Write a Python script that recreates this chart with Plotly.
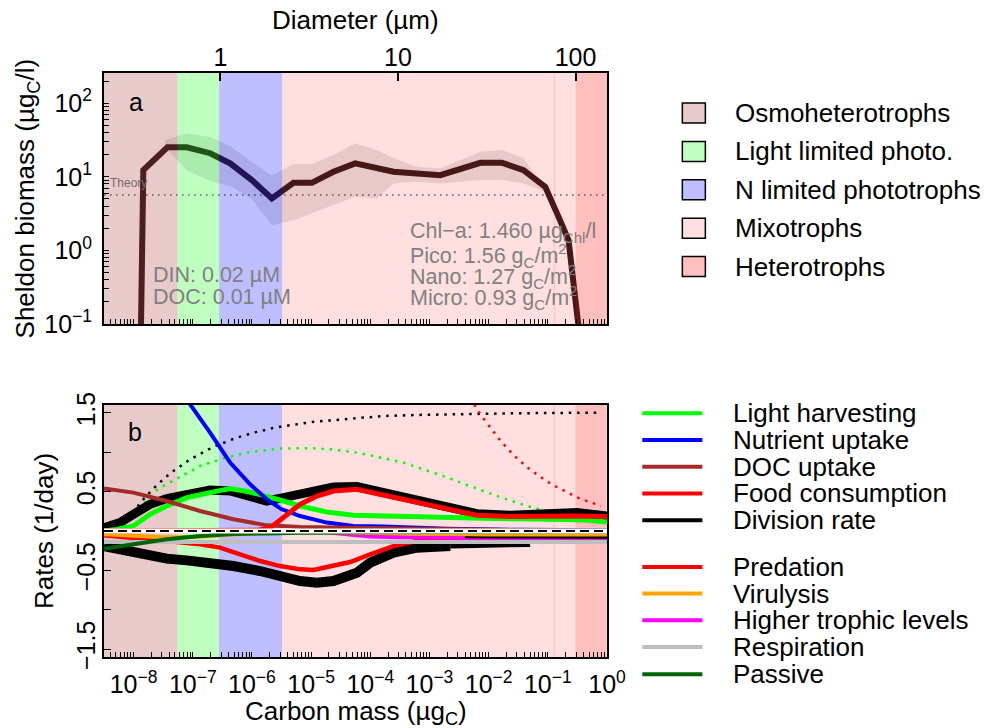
import numpy as np
import plotly.graph_objects as go

FONT = "Liberation Sans, Arial, Helvetica, sans-serif"

# ---------------- axis ranges (data units) ----------------
diam_axis = [0.221, 150.3]          # µm (top axis of panel a)
mass_axis_log = [-8.5, 0.0]         # log10 µgC (bottom axes)
biomass_axis_log = [-1.0, 2.41]     # log10 µgC/l
rate_axis = [-1.6, 1.6]             # 1/day
carbon_per_d3 = 10 ** -6.535        # µgC per (µm diameter)^3

# ---------------- size groups (edges in diameter, µm) ----------------
group_names = ["Osmoheterotrophs", "Light limited photo.", "N limited phototrophs",
               "Mixotrophs", "Heterotrophs"]
group_edges_um = [0.221, 0.573, 0.983, 2.226, 100.0, 150.3]
group_colors = ["rgba(165,42,42,0.25)", "rgba(0,255,0,0.25)", "rgba(0,0,255,0.25)",
                "rgba(255,0,0,0.125)", "rgba(255,0,0,0.25)"]
faint_edge_um = 76.0

# ---------------- panel a: Sheldon biomass ----------------
biomass_d = [0.352, 0.368, 0.503, 0.647, 0.875, 1.134, 1.503, 1.948, 2.578, 3.27, 4.33,
             5.74, 9.44, 17.3, 29.1, 38.5, 50.9, 67.5, 80.2, 91.3, 103.6, 115.0]
biomass = [0.01, 12.3, 25.1, 25.1, 20.9, 15.2, 9.0, 5.08, 8.28, 8.28, 11.7,
           15.2, 11.7, 10.5, 15.5, 15.5, 12.3, 7.3, 2.85, 1.37, 0.098, 0.01]
shade_d = [0.488, 0.647, 0.875, 1.134, 1.503, 1.948, 2.578, 3.27, 4.33, 5.74, 7.61,
           9.44, 12.8, 17.3, 29.1, 38.5, 50.9, 67.5]
shade_hi = [31.6, 39.0, 34.8, 26.2, 15.9, 10.5, 14.9, 14.9, 19.8, 28.5, 23.1,
            17.8, 13.7, 13.0, 21.9, 23.1, 17.8, 6.6]
shade_lo = [25.4, 12.3, 8.73, 7.47, 4.97, 2.2, 2.57, 3.17, 4.11, 5.35, 5.08,
            8.13, 8.55, 8.13, 9.02, 9.02, 8.13, 6.2]
theory_biomass = 5.64

# ---------------- panel b: rates (x as log10 carbon mass) ----------------
light_lm = [-8.5, -8.348, -8.285, -8.005, -7.722, -7.44, -7.102, -6.708, -6.369, -6.031,
            -5.749, -5.468, -5.186, -4.734, -4.285, -3.213, -2.087, -0.959, -0.395, 0.0]
light_v = [0.0, 0.01, 0.02, 0.064, 0.212, 0.318, 0.424, 0.488, 0.539, 0.496,
           0.445, 0.381, 0.318, 0.241, 0.2, 0.178, 0.161, 0.149, 0.14, 0.114]

nutrient_lm = [-7.249, -7.046, -6.708, -6.369, -6.031, -5.749, -5.495, -5.186, -4.734,
               -4.285, -3.777, -2.705, -1.466, 0.0]
nutrient_v = [1.9, 1.61, 1.25, 0.869, 0.593, 0.403, 0.276, 0.19, 0.107,
              0.064, 0.056, 0.03, 0.015, 0.01]

doc_lm = [-8.5, -8.005, -7.44, -6.877, -6.314, -5.749, -5.186, -4.171, -3.5, -2.7, -1.5, 0.0]
doc_v = [0.539, 0.488, 0.381, 0.254, 0.149, 0.072, 0.051, 0.04, 0.03, 0.02, 0.01, 0.005]

food_lm = [-8.5, -6.5, -5.9, -5.693, -5.411, -5.186, -4.903, -4.623, -4.227, -3.889,
           -3.326, -2.763, -2.198, -1.635, -0.959, -0.507, 0.0]
food_v = [0.0, 0.0, 0.01, 0.04, 0.212, 0.339, 0.445, 0.508, 0.53, 0.475,
          0.381, 0.276, 0.2, 0.183, 0.19, 0.19, 0.183]

division_lm = [-8.5, -8.229, -8.005, -7.722, -7.44, -7.102, -6.708, -6.369, -6.031, -5.749,
               -5.468, -5.073, -4.623, -4.227, -3.889, -3.326, -2.763, -2.198, -1.635,
               -0.959, -0.507, 0.0]
division_v = [0.043, 0.107, 0.212, 0.339, 0.412, 0.466, 0.521, 0.508, 0.424, 0.381,
              0.424, 0.488, 0.559, 0.564, 0.508, 0.403, 0.297, 0.221, 0.2,
              0.225, 0.234, 0.19]

predation_lm = [-8.5, -8.005, -7.44, -6.877, -6.539, -6.2, -5.862, -5.524, -5.186, -4.961,
                -4.623, -4.34, -4.002, -3.608, -3.213, -2.874, -2.0, -1.0, 0.0]
predation_v = [-0.055, -0.084, -0.127, -0.169, -0.211, -0.296, -0.381, -0.445, -0.487, -0.496,
               -0.445, -0.394, -0.296, -0.191, -0.127, -0.084, -0.1, -0.11, -0.11]

loss_lm = [-8.5, -8.229, -7.722, -7.44, -7.102, -6.708, -6.314, -5.862, -5.468, -5.186,
           -4.903, -4.623, -4.227, -4.002, -3.608, -3.213, -2.649]
loss_v = [-0.191, -0.233, -0.318, -0.351, -0.373, -0.402, -0.445, -0.508, -0.593, -0.635,
          -0.656, -0.635, -0.53, -0.402, -0.275, -0.211, -0.191]
loss_fade_lm = [-2.649, -1.973, -1.3]
loss_fade_v = [-0.191, -0.178, -0.17]
loss_tail_lm = [-2.4, -1.8, -1.0, 0.0]
loss_tail_v = [-0.065, -0.07, -0.075, -0.075]

virus_lm = [-8.5, -8.0, -7.5, -7.0, -6.5, -6.0, -5.0, -4.0, -3.0, -2.0, -1.0, 0.0]
virus_v = [-0.04, -0.06, -0.08, -0.075, -0.05, -0.03, -0.015, -0.02, -0.035, -0.045, -0.045, -0.045]

htl_lm = [-8.5, -5.2, -4.7, -4.3, -4.0, -3.5, -3.0, -2.0, -1.0, 0.0]
htl_v = [0.0, 0.0, -0.02, -0.05, -0.07, -0.08, -0.085, -0.09, -0.09, -0.09]

resp_lm = [-8.5, -4.25, 0.0]
resp_v = [-0.14, -0.14, -0.14]

passive_lm = [-8.5, -8.005, -7.44, -6.877, -6.314, -5.749, -5.186, -4.0, -2.0, 0.0]
passive_v = [-0.224, -0.169, -0.105, -0.063, -0.038, -0.03, -0.021, -0.015, -0.01, -0.005]

maxdiv_lm = [-8.37, -8.032, -7.863, -7.666, -7.497, -7.355, -7.227, -7.113, -6.99, -6.877,
             -6.753, -6.623, -6.5, -6.369, -6.256, -6.116, -5.975, -5.833, -5.693, -5.553,
             -5.411, -5.27, -5.13, -4.988, -4.848, -4.707, -4.565, -4.425, -4.285, -3.777,
             -3.213, -2.649, -2.086, -1.522, -0.959, -0.113]
maxdiv_v = [0.06, 0.212, 0.381, 0.539, 0.657, 0.75, 0.813, 0.877, 0.932, 0.975,
            1.029, 1.08, 1.114, 1.152, 1.186, 1.216, 1.25, 1.271, 1.301, 1.321,
            1.334, 1.356, 1.368, 1.385, 1.394, 1.403, 1.41, 1.419, 1.428, 1.461,
            1.474, 1.483, 1.492, 1.496, 1.499, 1.504]

maxlight_lm = [-8.348, -8.229, -7.92, -7.638, -7.497, -7.271, -7.13, -7.017, -6.877, -6.623,
               -6.369, -6.087, -5.806, -5.524, -5.242, -4.961, -4.679, -4.396, -4.285, -4.002,
               -3.72, -3.439, -3.185, -2.932, -2.649, -2.396, -2.142, -1.889, -1.606, -1.352,
               -1.072, -0.818]
maxlight_v = [0.02, 0.064, 0.276, 0.508, 0.572, 0.666, 0.72, 0.775, 0.826, 0.889,
              0.945, 0.996, 1.025, 1.047, 1.051, 1.051, 1.038, 1.017, 1.004, 0.962,
              0.92, 0.869, 0.805, 0.742, 0.666, 0.593, 0.521, 0.454, 0.381, 0.318,
              0.263, 0.225]

maxfood_lm = [-2.311, -2.244, -2.171, -2.086, -2.002, -1.917, -1.833, -1.748, -1.647, -1.55,
              -1.449, -1.342, -1.229, -1.116, -0.998, -0.879, -0.756, -0.632, -0.507, -0.372,
              -0.236, -0.101]
maxfood_v = [1.7, 1.61, 1.517, 1.428, 1.343, 1.263, 1.178, 1.102, 1.017, 0.945,
             0.877, 0.805, 0.742, 0.678, 0.623, 0.572, 0.521, 0.47, 0.428, 0.39,
             0.352, 0.318]

zero_v = [0.0, 0.0]

# ---------------- legend of panel b ----------------
rate_legend = [("Light harvesting", "rgb(0,255,0)"), ("Nutrient uptake", "rgb(0,0,255)"),
               ("DOC uptake", "rgb(165,42,42)"), ("Food consumption", "rgb(255,0,0)"),
               ("Division rate", "rgb(0,0,0)"), ("Predation", "rgb(255,0,0)"),
               ("Virulysis", "rgb(255,165,0)"), ("Higher trophic levels", "rgb(255,0,255)"),
               ("Respiration", "rgb(190,190,190)"), ("Passive", "rgb(0,100,0)")]

# ---------------- tick labels ----------------
mass_decades = [1e-8, 1e-7, 1e-6, 1e-5, 1e-4, 1e-3, 1e-2, 1e-1, 1e0]
mass_decade_text = ["10<sup>−8</sup>", "10<sup>−7</sup>", "10<sup>−6</sup>", "10<sup>−5</sup>",
                    "10<sup>−4</sup>", "10<sup>−3</sup>", "10<sup>−2</sup>", "10<sup>−1</sup>",
                    "10<sup>0</sup>"]
bio_decades = [0.1, 1.0, 10.0, 100.0]
bio_decade_text = ["10<sup>−1</sup>", "10<sup>0</sup>", "10<sup>1</sup>", "10<sup>2</sup>"]
diam_tick_vals = [1, 10, 100]
diam_tick_text = ["1", "10", "100"]
rate_tick_vals = [-1.5, -0.5, 0.5, 1.5]
rate_tick_text = ["−1.5", "−0.5", "0.5", "1.5"]
rate_minor_vals = [-1.0, 0.0, 1.0]

# ---------------- figure geometry (pixels) ----------------
W, H = 985, 728
PL, PR, PT, PB = 104.0, 606.7, 73.3, 656.7
top_bottom_px, bot_top_px = 324.0, 405.0


def fx(px):
    return (px - PL) / (PR - PL)


def fy(py):
    return (PB - py) / (PB - PT)


def mass(lm):
    return [10.0 ** v for v in lm]


fig = go.Figure()

# ===== panel a =====
bio_lo, bio_hi = 10 ** biomass_axis_log[0], 10 ** biomass_axis_log[1]
fig.add_trace(go.Scatter(x=[], y=[], xaxis="x", yaxis="y", showlegend=False))
fig.add_trace(go.Scatter(x=shade_d + shade_d[::-1], y=shade_hi + shade_lo[::-1],
                         fill="toself", fillcolor="rgba(0,0,0,0.10)", line=dict(width=0),
                         mode="lines", xaxis="x3", yaxis="y", showlegend=False))
fig.add_trace(go.Scatter(x=diam_axis, y=[theory_biomass] * 2, mode="lines",
                         line=dict(color="rgba(70,70,70,0.85)", width=1.6, dash="1.6px,4.4px"),
                         xaxis="x3", yaxis="y", showlegend=False))
fig.add_trace(go.Scatter(x=biomass_d, y=biomass, mode="lines",
                         line=dict(color="rgb(45,28,28)", width=6),
                         xaxis="x3", yaxis="y", showlegend=False))
for i in range(len(group_names)):
    x0, x1 = group_edges_um[i], group_edges_um[i + 1]
    fig.add_trace(go.Scatter(x=[x0, x0, x1, x1, x0], y=[bio_lo, bio_hi, bio_hi, bio_lo, bio_lo],
                             fill="toself", fillcolor=group_colors[i], line=dict(width=0),
                             mode="lines", xaxis="x3", yaxis="y", showlegend=False))
fig.add_trace(go.Scatter(x=[faint_edge_um] * 2, y=[bio_lo, bio_hi], mode="lines",
                         line=dict(color="rgba(255,0,0,0.15)", width=1),
                         xaxis="x3", yaxis="y", showlegend=False))

# ===== panel b =====
for i in range(len(group_names)):
    m0 = carbon_per_d3 * group_edges_um[i] ** 3
    m1 = carbon_per_d3 * group_edges_um[i + 1] ** 3
    fig.add_trace(go.Scatter(x=[m0, m0, m1, m1, m0],
                             y=[rate_axis[0], rate_axis[1], rate_axis[1], rate_axis[0], rate_axis[0]],
                             fill="toself", fillcolor=group_colors[i], line=dict(width=0),
                             mode="lines", xaxis="x2", yaxis="y2", showlegend=False))
mf = carbon_per_d3 * faint_edge_um ** 3
fig.add_trace(go.Scatter(x=[mf, mf], y=rate_axis, mode="lines",
                         line=dict(color="rgba(255,0,0,0.15)", width=1),
                         xaxis="x2", yaxis="y2", showlegend=False))


def rate_line(lm, v, color, width, dash=None):
    ln = dict(color=color, width=width)
    if dash:
        ln["dash"] = dash
    fig.add_trace(go.Scatter(x=mass(lm), y=v, mode="lines", line=ln,
                             xaxis="x2", yaxis="y2", showlegend=False))


dots = "2.5px,5.8px"
rate_line(maxdiv_lm, maxdiv_v, "black", 2.5, dots)
rate_line(maxlight_lm, maxlight_v, "rgb(0,255,0)", 2.5, dots)
rate_line(maxfood_lm, maxfood_v, "rgb(255,0,0)", 2.5, dots)

rate_line(loss_lm, loss_v, "black", 10)
rate_line(loss_fade_lm, loss_fade_v, "black", 5)
rate_line(predation_lm, predation_v, "rgb(255,0,0)", 4.5)
rate_line(htl_lm, htl_v, "rgb(255,0,255)", 4)
rate_line(loss_tail_lm, loss_tail_v, "black", 4)
rate_line(virus_lm, virus_v, "rgb(255,165,0)", 4)
rate_line(resp_lm, resp_v, "rgb(190,190,190)", 4)
rate_line(passive_lm, passive_v, "rgb(0,100,0)", 4)

rate_line(division_lm, division_v, "black", 9)
rate_line(light_lm, light_v, "rgb(0,255,0)", 5)
rate_line(nutrient_lm, nutrient_v, "rgb(0,0,255)", 4)
rate_line(doc_lm, doc_v, "rgb(165,42,42)", 4)
rate_line(food_lm, food_v, "rgb(255,0,0)", 5)

zero_x = [10 ** mass_axis_log[0], 10 ** mass_axis_log[1]]
fig.add_trace(go.Scatter(x=zero_x, y=zero_v, mode="lines", line=dict(color="white", width=5),
                         xaxis="x2", yaxis="y2", showlegend=False))
fig.add_trace(go.Scatter(x=zero_x, y=zero_v, mode="lines",
                         line=dict(color="black", width=2, dash="9px,5px"),
                         xaxis="x2", yaxis="y2", showlegend=False))

# ---------------- ticks ----------------
mass_all, mass_minor = [], []
for k in range(-9, 1):
    for n in range(1, 10):
        lv = np.log10(n) + k
        if mass_axis_log[0] - 1e-9 <= lv <= mass_axis_log[1] + 1e-9:
            mass_all.append(n * 10.0 ** k)
            if n != 1:
                mass_minor.append(n * 10.0 ** k)
bio_minor = []
for k in range(-1, 3):
    for n in range(2, 10):
        if np.log10(n) + k <= biomass_axis_log[1]:
            bio_minor.append(n * 10.0 ** k)

tickfont = dict(family=FONT, size=25, color="black")
frame = dict(showgrid=False, zeroline=False, showline=True, linecolor="black", linewidth=2,
             mirror=True, ticks="inside", tickcolor="black", tickwidth=1, ticklen=5,
             tickfont=tickfont)


def minor(vals, ln=5):
    return dict(tickmode="array", tickvals=vals, ticks="inside", ticklen=ln,
                tickcolor="black", tickwidth=1, showgrid=False)


dom_top = [fy(top_bottom_px), 1.0]
dom_bot = [0.0, fy(bot_top_px)]

fig.update_layout(
    width=W, height=H, autosize=False,
    margin=dict(l=PL, r=W - PR, t=PT, b=H - PB, pad=0),
    paper_bgcolor="white", plot_bgcolor="white",
    showlegend=False, hovermode=False, dragmode=False,
    font=dict(family=FONT, size=20, color="black"),
    xaxis=dict(type="log", range=mass_axis_log, domain=[0, 1], anchor="y",
               tickvals=mass_all, showticklabels=False, **frame),
    xaxis3=dict(type="log", range=[np.log10(diam_axis[0]), np.log10(diam_axis[1])],
                overlaying="x", side="top", anchor="y", showgrid=False, zeroline=False,
                showline=False, ticks="inside", tickcolor="black", tickwidth=2, ticklen=8,
                tickvals=diam_tick_vals, ticktext=diam_tick_text, tickfont=tickfont,
                ticklabelstandoff=1),
    yaxis=dict(type="log", range=biomass_axis_log, domain=dom_top, anchor="x",
               tickvals=bio_decades, ticktext=bio_decade_text, ticklabelstandoff=5,
               minor=minor(bio_minor), **frame),
    xaxis2=dict(type="log", range=mass_axis_log, domain=[0, 1], anchor="y2",
                tickvals=mass_decades, ticktext=mass_decade_text, ticklabelstandoff=4,
                minor=minor(mass_minor), **frame),
    yaxis2=dict(range=rate_axis, domain=dom_bot, anchor="x2", tickvals=rate_tick_vals,
                ticktext=rate_tick_text, tickangle=-90, ticklabelstandoff=-3,
                minor=minor(rate_minor_vals, 7), **{**frame, "ticklen": 7}),
)

# ---------------- annotations ----------------
ann = []


def text(px, py, s, size, color="black", xanchor="center", angle=0):
    ann.append(dict(x=fx(px), y=fy(py), xref="paper", yref="paper", text=s, showarrow=False,
                    xanchor=xanchor, yanchor="middle", textangle=angle,
                    font=dict(family=FONT, size=size, color=color)))


text((PL + PR) / 2, 20, "Diameter (µm)", 26)
text((PL + PR) / 2, 712, "Carbon mass (µg<sub>C</sub>)", 26)
text(27, (PT + top_bottom_px) / 2, "Sheldon biomass (µg<sub>C</sub>/l)", 26, angle=-90)
text(44, (bot_top_px + PB) / 2, "Rates (1/day)", 26, angle=-90)
text(136, 102, "a", 25)
text(135, 432, "b", 25)
text(108, 183, "Theory", 12, color="rgb(125,105,105)", xanchor="left")
grey = "rgb(128,128,128)"
text(151, 275, "DIN: 0.02 µM", 21.5, grey, "left")
text(151, 297, "DOC: 0.01 µM", 21.5, grey, "left")
text(408, 233, "Chl−a: 1.460 µg<sub>Chl</sub>/l", 21.5, grey, "left")
text(408, 256, "Pico: 1.56 g<sub>C</sub>/m<sup>2</sup>", 21.5, grey, "left")
text(408, 277, "Nano: 1.27 g<sub>C</sub>/m<sup>2</sup>", 21.5, grey, "left")
text(408, 298, "Micro: 0.93 g<sub>C</sub>/m<sup>2</sup>", 21.5, grey, "left")

shapes = []
group_rows = [113.3, 151.7, 190.0, 228.3, 266.7]
for name, col, row in zip(group_names, group_colors, group_rows):
    shapes.append(dict(type="rect", xref="paper", yref="paper", x0=fx(682), x1=fx(705),
                       y0=fy(row + 10), y1=fy(row - 10), fillcolor=col,
                       line=dict(color="black", width=1.5)))
    text(733, row, name, 26, xanchor="left")

rate_rows = [413.3, 440.0, 466.7, 493.3, 520.0, 566.7, 593.3, 620.0, 646.7, 674.0]
for (name, col), row in zip(rate_legend, rate_rows):
    shapes.append(dict(type="line", xref="paper", yref="paper", x0=fx(642), x1=fx(702),
                       y0=fy(row), y1=fy(row), line=dict(color=col, width=4)))
    text(731, row, name, 26, xanchor="left")

fig.update_layout(annotations=ann, shapes=shapes)
fig.write_html("out.html", config={"displayModeBar": False, "staticPlot": True},
               post_script="document.body.style.margin='0px';")
